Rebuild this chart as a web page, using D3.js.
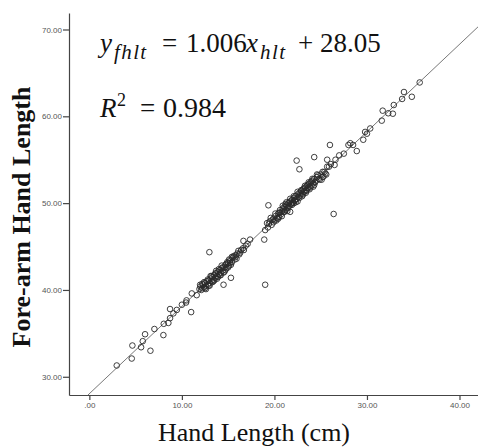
<!DOCTYPE html>
<html><head><meta charset="utf-8">
<script src="https://cdn.jsdelivr.net/npm/d3@7"></script>
<style>
html,body{margin:0;padding:0;background:#fff;}
svg{display:block;}
</style></head>
<body>
<svg id="chart" width="478" height="448"></svg>
<script>
// ---- data ----
const handLength = [
 2.96,4.58,4.65,5.59,5.77,6.02,6.6,7.03,8.0,8.04,8.54,8.72,8.72,9.08,9.45,10.0,10.45,10.5,11.0,11.07,11.6,11.97,
 11.9,12.0,12.2,12.3,12.4,12.5,12.6,12.7,12.8,12.9,13.0,13.1,13.2,13.3,13.4,13.5,13.6,13.7,13.8,13.9,14.0,14.1,14.2,14.3,14.4,14.6,14.7,14.8,15.0,15.1,15.2,15.4,15.5,15.7,15.8,16.0,16.2,16.4,16.6,16.9,17.1,
 12.1,12.4,12.6,12.9,13.1,13.3,13.5,13.7,13.9,14.1,14.3,14.5,14.7,14.9,15.1,15.3,15.6,15.9,16.3,16.7,
 12.2,12.5,12.8,13.0,13.2,13.4,13.6,13.8,14.0,14.2,14.4,14.6,14.8,15.0,15.2,15.4,15.8,16.1,
 12.97,14.5,15.3,16.65,17.37,18.9,19.0,
 19.0,19.2,19.3,19.5,19.7,19.9,20.0,20.1,20.3,20.4,20.5,20.6,20.7,20.8,20.9,21.0,21.1,21.2,21.3,21.4,21.5,21.6,21.7,21.8,21.9,22.0,22.1,22.2,22.3,22.4,22.5,22.6,22.7,22.8,22.9,23.0,23.1,23.2,23.3,23.4,23.5,23.6,23.7,23.8,23.9,24.0,24.1,24.2,24.3,24.4,24.6,24.8,25.0,25.2,25.4,25.6,25.9,26.1,26.5,
 19.4,19.8,20.2,20.5,20.8,21.0,21.2,21.4,21.6,21.9,22.1,22.3,22.5,22.8,23.0,23.2,23.4,23.6,23.8,24.0,24.2,24.5,24.7,25.1,25.5,
 19.6,19.9,20.1,20.4,20.6,20.9,21.1,21.3,21.5,21.7,21.9,22.1,22.3,22.5,22.7,22.9,23.1,23.3,23.5,23.7,23.9,24.1,24.3,24.6,24.9,25.2,
 19.35,22.4,22.7,24.3,26.0,26.4,21.7,21.3,25.3,25.7,
 25.7,26.6,27.0,27.5,28.0,28.2,28.5,28.9,29.6,29.8,30.0,30.35,31.6,31.7,32.3,32.8,32.9,33.8,34.0,34.85,35.7
];
const foreArmHandLength = [
 31.3,32.1,33.6,33.4,34.1,34.9,33.0,35.5,34.8,36.1,36.2,36.75,37.8,37.3,37.7,38.3,38.55,38.8,37.45,39.6,39.4,40.6,
 40.1,40.4,40.2,40.6,40.3,40.8,40.5,41.0,40.6,41.1,40.8,41.3,41.0,41.5,41.2,41.7,41.4,41.9,41.6,42.1,41.8,42.3,42.0,42.5,42.2,42.6,42.9,42.5,43.1,42.8,43.4,43.2,43.7,43.5,44.0,44.2,44.1,44.6,44.8,45.1,45.3,
 40.0,40.9,40.1,40.5,41.6,40.9,41.1,42.2,41.5,41.7,42.8,42.0,42.3,43.2,43.5,42.9,43.9,43.6,44.3,44.6,
 40.7,40.2,41.2,40.5,41.6,41.0,41.9,41.3,42.4,41.7,42.6,42.1,43.0,42.6,43.1,43.8,43.8,44.5,
 44.35,40.6,41.4,45.65,45.8,45.8,40.6,
 46.9,47.7,47.2,47.9,47.5,48.2,48.0,48.5,48.3,48.8,48.4,49.2,48.7,49.0,49.4,49.0,49.6,49.2,49.8,49.4,50.0,49.7,50.2,49.9,50.4,50.1,50.6,50.3,50.8,50.5,51.0,50.7,51.2,50.9,51.4,51.1,51.6,51.3,51.8,51.4,52.0,51.7,52.2,51.9,52.4,52.0,52.6,52.3,52.8,52.4,53.0,52.8,53.3,53.0,53.6,53.3,54.2,54.5,54.4,
 47.6,48.1,48.0,48.9,48.5,49.3,49.9,49.1,50.1,49.8,50.0,50.4,50.2,51.1,50.8,51.7,51.2,52.1,51.6,52.5,51.9,52.6,53.2,52.7,53.4,
 48.3,47.8,48.8,48.2,48.9,49.7,49.0,50.1,49.5,50.5,50.0,50.8,50.1,51.3,50.6,51.5,51.0,52.0,51.5,52.4,51.8,52.8,52.1,53.3,52.7,53.6,
 49.75,54.9,53.9,55.3,56.7,48.75,49.0,49.6,53.05,54.2,
 55.0,55.0,55.5,55.7,56.7,56.9,56.7,56.0,57.3,58.2,58.0,58.6,59.5,60.65,60.35,60.3,61.3,62.0,62.8,62.25,63.9
];
const fitSlope = 1.006;
const fitIntercept = 28.05;
const xTickValues = [0, 10, 20, 30, 40];
const xTickLabels = [".00", "10.00", "20.00", "30.00", "40.00"];
const yTickValues = [30, 40, 50, 60, 70];
const yTickLabels = ["30.00", "40.00", "50.00", "60.00", "70.00"];
const xTitle = "Hand Length (cm)";
const yTitle = "Fore-arm Hand Length";

// ---- chart ----
const svg = d3.select("#chart");
const pLeft = 69, pRight = 478, pTop = 13, pBottom = 395;
const x = d3.scaleLinear().domain([-2.2, 42]).range([pLeft, pRight]);
const y = d3.scaleLinear().domain([27.9, 71.9]).range([pBottom, pTop]);

// axes
const xAxis = d3.axisBottom(x).tickValues(xTickValues)
  .tickFormat((d, i) => xTickLabels[i]).tickSize(5).tickSizeOuter(0).tickPadding(2);
const yAxis = d3.axisLeft(y).tickValues(yTickValues)
  .tickFormat((d, i) => yTickLabels[i]).tickSize(6).tickSizeOuter(0).tickPadding(1);

const gx = svg.append("g").attr("transform", `translate(0,${pBottom})`).call(xAxis);
const gy = svg.append("g").attr("transform", `translate(${pLeft},0)`).call(yAxis);
[gx, gy].forEach(g => {
  g.select(".domain").attr("stroke", "#444").attr("stroke-width", 1.2);
  g.selectAll(".tick line").attr("stroke", "#444").attr("stroke-width", 1.2);
  g.selectAll(".tick text").attr("fill", "#555")
    .attr("font-family", "'Liberation Sans', Arial, sans-serif").attr("font-size", 8);
});

// clip
svg.append("clipPath").attr("id", "plotclip").append("rect")
  .attr("x", pLeft).attr("y", pTop).attr("width", pRight - pLeft).attr("height", pBottom - pTop);

// fit line
const xs0 = (27.9 - fitIntercept) / fitSlope, xs1 = 42;
svg.append("line").attr("clip-path", "url(#plotclip)")
  .attr("x1", x(xs0)).attr("y1", y(fitIntercept + fitSlope * xs0))
  .attr("x2", x(xs1)).attr("y2", y(fitIntercept + fitSlope * xs1))
  .attr("stroke", "#555").attr("stroke-width", 0.8);

// points
const pts = handLength.map((v, i) => ({x: v, y: foreArmHandLength[i]}));
svg.append("g").selectAll("circle").data(pts).join("circle")
  .attr("cx", d => x(d.x)).attr("cy", d => y(d.y)).attr("r", 2.8)
  .attr("fill", "none").attr("stroke", "#2a2a2a").attr("stroke-width", 0.9);

// titles
svg.append("text").attr("x", 254).attr("y", 441).attr("text-anchor", "middle")
  .attr("font-family", "'Liberation Serif', 'Times New Roman', serif").attr("font-size", 26)
  .attr("fill", "#111").text(xTitle);
svg.append("text").attr("transform", "translate(30,217) rotate(-90)").attr("text-anchor", "middle")
  .attr("font-family", "'Liberation Serif', 'Times New Roman', serif").attr("font-size", 26)
  .attr("font-weight", "bold").attr("fill", "#111").text(yTitle);

// equation
const eq = svg.append("text").attr("y", 52)
  .attr("font-family", "'Liberation Serif', 'Times New Roman', serif").attr("font-size", 27).attr("fill", "#111");
eq.append("tspan").attr("x", 100).attr("font-style", "italic").text("y");
eq.append("tspan").attr("x", 114).attr("font-style", "italic").attr("font-size", 21)
  .attr("letter-spacing", 1.4).attr("dy", 7).text("fhlt");
eq.append("tspan").attr("x", 162).attr("dy", -7).text("=");
eq.append("tspan").attr("x", 186).text("1.006");
eq.append("tspan").attr("x", 246).attr("font-style", "italic").text("x");
eq.append("tspan").attr("x", 260).attr("font-style", "italic").attr("font-size", 21)
  .attr("letter-spacing", 1.4).attr("dy", 7).text("hlt");
eq.append("tspan").attr("x", 298).attr("dy", -7).text("+");
eq.append("tspan").attr("x", 320).text("28.05");

const r2 = svg.append("text").attr("y", 117)
  .attr("font-family", "'Liberation Serif', 'Times New Roman', serif").attr("font-size", 27).attr("fill", "#111");
r2.append("tspan").attr("x", 100).attr("font-style", "italic").text("R");
r2.append("tspan").attr("x", 117).attr("font-size", 18).attr("dy", -11).text("2");
r2.append("tspan").attr("x", 140).attr("dy", 11).text("=");
r2.append("tspan").attr("x", 163).attr("font-size", 28).text("0.984");
</script>
</body></html>
